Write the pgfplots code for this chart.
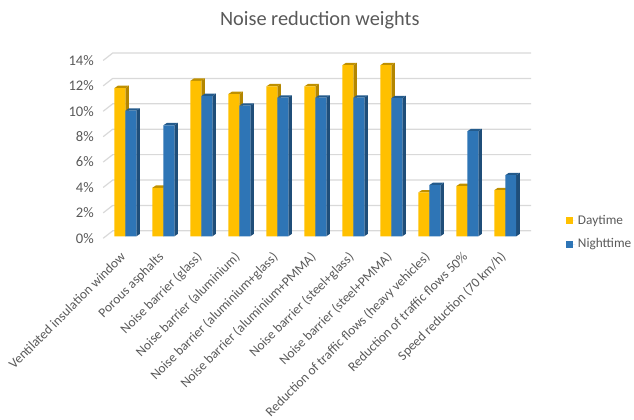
\documentclass[border=0pt]{standalone}
\usepackage{pgfplots}
\usepackage{pgfplotstable}
\usepackage{fontspec}
\setmainfont{Carlito}
\pgfplotsset{compat=1.18}
\definecolor{day}{HTML}{FFC000}
\definecolor{dayside}{HTML}{B38600}
\definecolor{daytop}{HTML}{BF9000}
\definecolor{night}{HTML}{2E75B6}
\definecolor{nightside}{HTML}{1F4E79}
\definecolor{nighttop}{HTML}{245B8C}
\definecolor{txt}{HTML}{595959}
\definecolor{grd}{HTML}{D9D9D9}
\pgfplotstableread{
x day night
0 11.67 9.89
1 3.82 8.74
2 12.24 11.04
3 11.20 10.28
4 11.80 10.91
5 11.80 10.91
6 13.47 10.91
7 13.47 10.87
8 3.45 4.03
9 3.95 8.27
10 3.63 4.81
}\weights
\newcommand{\barfaces}[5]{% col, left offset, right offset, side colour, top colour
  \pgfplotsinvokeforeach{0,...,10}{%
    \pgfplotstablegetelem{##1}{#1}\of\weights
    \pgfmathsetmacro{\v}{\pgfplotsretval}%
    \pgfmathsetmacro{\xl}{##1+#2}%
    \pgfmathsetmacro{\xr}{##1+#3}%
    \pgfmathsetmacro{\xlb}{\xl+0.0945}%
    \pgfmathsetmacro{\xrb}{\xr+0.0945}%
    \pgfmathsetmacro{\vb}{\v+0.19}%
    \addplot[forget plot,draw=none,fill=#4] coordinates {(\xr,0)(\xrb,0.19)(\xrb,\vb)(\xr,\v)} -- cycle;
    \addplot[forget plot,draw=none,fill=#5] coordinates {(\xl,\v)(\xlb,\vb)(\xrb,\vb)(\xr,\v)} -- cycle;
  }%
}
\begin{document}
\begin{tikzpicture}[x=0.75pt,y=0.75pt]
\begin{axis}[
  scale only axis,
  width=321.98pt,height=139.28pt,
  clip=false,
  xmin=-0.5846,xmax=10.6824,
  ymin=-0.157,ymax=14.42,
  axis line style={draw=none},
  tick style={draw=none},
  xtick={0,...,10},
  xticklabels={Ventilated insulation window,Porous asphalts,Noise barrier (glass),Noise barrier (aluminium),Noise barrier (aluminium+glass),Noise barrier (aluminium+PMMA),Noise barrier (steel+glass),Noise barrier (steel+PMMA),Reduction of traffic flows (heavy vehicles),Reduction of traffic flows 50\%,Speed reduction (70 km/h)},
  x tick label style={rotate=45,anchor=north east,font=\fontsize{10.1pt}{11pt}\selectfont,text=txt,inner sep=0pt,xshift=-9.6pt,yshift=-3.5pt},
  ytick={0,2,...,14},
  yticklabel={\pgfmathprintnumber{\tick}\%},
  /pgf/number format/assume math mode=true,
  y tick label style={font=\fontsize{11pt}{12pt}\selectfont,text=txt,yshift=-1.5pt,xshift=-3.5pt},
  legend style={at={(rel axis cs:1,0)},anchor=south west,xshift=26pt,yshift=-11pt,draw=none,fill=none,font=\fontsize{10pt}{11pt}\selectfont,text=txt,row sep=5.5pt,inner sep=0pt},
  legend cell align=left,
  legend image code/.code={\path (0pt,0pt) -- (7pt,0pt);\fill[#1] (0pt,-2.7pt) rectangle (5.4pt,2.7pt);},
]
\pgfplotsinvokeforeach{0,2,...,14}{%
  \addplot[forget plot,grd,line width=0.9pt] coordinates {(-0.5846,#1-0.157)(-0.3333,#1+0.43)(10.6824,#1+0.43)};
}
\barfaces{day}{-0.2887}{0}{dayside}{daytop}
\addplot[ybar,bar width=8.25pt,bar shift=-4.125pt,draw=none,fill=day] table[x=x,y=day]{\weights};
\addlegendentry{Daytime}
\barfaces{night}{0}{0.2887}{nightside}{nighttop}
\addplot[ybar,bar width=8.25pt,bar shift=4.125pt,draw=none,fill=night] table[x=x,y=night]{\weights};
\addlegendentry{Nighttime}
\node[text=txt,font=\fontsize{15.3pt}{17pt}\selectfont] at (rel axis cs:0.506,1.18) {Noise reduction weights};
\end{axis}
\path[use as bounding box] (-103.5,-180) rectangle (530.5,239);
\end{tikzpicture}
\end{document}
